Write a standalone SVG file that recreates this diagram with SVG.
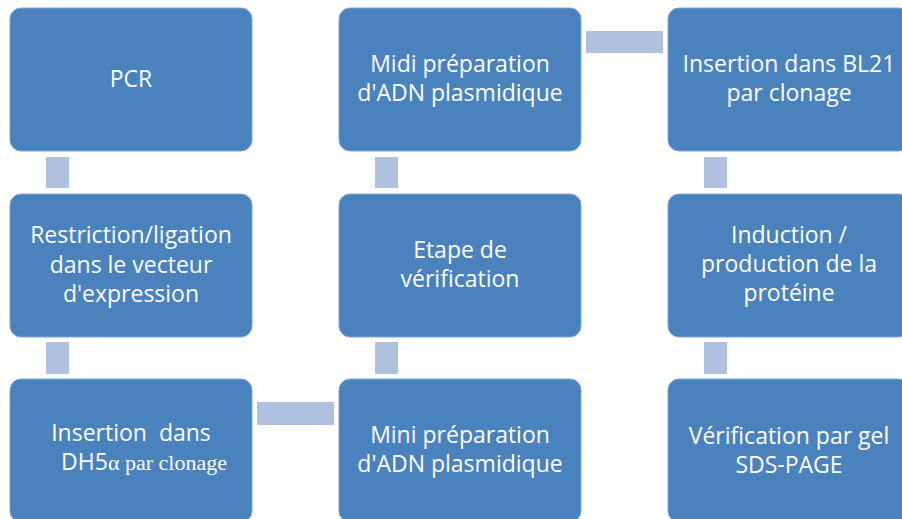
<svg xmlns="http://www.w3.org/2000/svg" width="902" height="519" viewBox="0 0 902 519">
<style>
.box{fill:#4a82be;stroke:#7ea6d6;stroke-width:1}
.con{fill:#afc1de}
text{font-family:"Open Sans","Liberation Sans",sans-serif;font-size:23px;fill:#ffffff;text-anchor:middle}
.serif{font-family:"Liberation Serif",serif;font-size:22px}
</style>
<rect width="902" height="519" fill="#ffffff"/>
<g id="connectors">
<rect class="con" x="46" y="157" width="23" height="31"/>
<rect class="con" x="46" y="342" width="23" height="32"/>
<rect class="con" x="257" y="402" width="77" height="23"/>
<rect class="con" x="375" y="342" width="23" height="32"/>
<rect class="con" x="375" y="157" width="23" height="31"/>
<rect class="con" x="586" y="31" width="77" height="22"/>
<rect class="con" x="704" y="157" width="23" height="31"/>
<rect class="con" x="704" y="342" width="23" height="32"/>
</g>
<g id="pcr">
<rect class="box" x="10" y="8" width="242" height="143" rx="11"/>
<text x="131" y="87">PCR</text>
</g>
<g id="restriction">
<rect class="box" x="10" y="194" width="242" height="143" rx="11"/>
<text x="131" y="243">Restriction/ligation</text>
<text x="131" y="273">dans le vecteur</text>
<text x="131" y="302">d'expression</text>
</g>
<g id="insertion-dh5">
<rect class="box" x="10" y="379" width="242" height="143" rx="11"/>
<text x="131" y="441" xml:space="preserve">Insertion  dans</text>
<text x="144" y="470">DH5<tspan class="serif">α par clonage</tspan></text>
</g>
<g id="mini">
<rect class="box" x="339" y="379" width="242" height="143" rx="11"/>
<text x="460" y="443">Mini préparation</text>
<text x="460" y="472">d'ADN plasmidique</text>
</g>
<g id="etape">
<rect class="box" x="339" y="194" width="242" height="143" rx="11"/>
<text x="460" y="258">Etape de</text>
<text x="460" y="287">vérification</text>
</g>
<g id="midi">
<rect class="box" x="339" y="8" width="242" height="143" rx="11"/>
<text x="460" y="72">Midi préparation</text>
<text x="460" y="101">d'ADN plasmidique</text>
</g>
<g id="insertion-bl21">
<rect class="box" x="668" y="8" width="242" height="143" rx="11"/>
<text x="789" y="72">Insertion dans BL21</text>
<text x="789" y="101">par clonage</text>
</g>
<g id="induction">
<rect class="box" x="668" y="194" width="242" height="143" rx="11"/>
<text x="789" y="243">Induction /</text>
<text x="789" y="272">production de la</text>
<text x="789" y="301">protéine</text>
</g>
<g id="sds">
<rect class="box" x="668" y="379" width="242" height="143" rx="11"/>
<text x="789" y="444">Vérification par gel</text>
<text x="789" y="473">SDS-PAGE</text>
</g>
</svg>
